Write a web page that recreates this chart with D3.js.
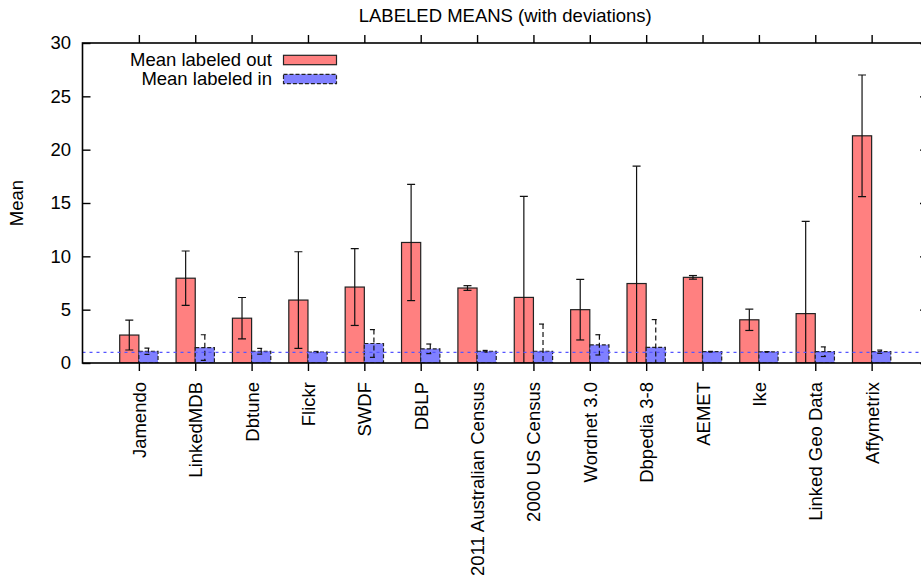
<!DOCTYPE html>
<html lang="en">
<head>
<meta charset="utf-8">
<script src="https://d3js.org/d3.v7.min.js"></script>
<style>
  body { margin: 0; background: #fff; }
  text { font-family: "Liberation Sans", Arial, sans-serif; }
</style>
</head>
<body>
<div id="chart"></div>
<script>
// data
var categories = ["Jamendo", "LinkedMDB", "Dbtune", "Flickr", "SWDF", "DBLP",
  "2011 Australian Census", "2000 US Census", "Wordnet 3.0", "Dbpedia 3-8",
  "AEMET", "Ike", "Linked Geo Data", "Affymetrix"];
var meanOut = [2.62, 7.95, 4.2, 5.9, 7.12, 11.3, 7.03, 6.15, 5.0, 7.45, 8.03, 4.05, 4.63, 21.3];
var devOut  = [1.4, 2.55, 1.94, 4.53, 3.6, 5.45, 0.22, 9.47, 2.84, 11.0, 0.17, 1.0, 8.65, 5.7];
var meanIn  = [1.1, 1.45, 1.1, 1.03, 1.83, 1.33, 1.1, 1.1, 1.7, 1.47, 1.06, 1.05, 1.06, 1.06];
var devIn   = [0.3, 1.2, 0.27, 0.05, 1.3, 0.45, 0.08, 2.55, 0.95, 2.6, 0.03, 0.02, 0.45, 0.15];
var yTicks = [0, 5, 10, 15, 20, 25, 30];
var refLine = 1;

var W = 921, H = 583, fs = 18.5;
var pLeft = 82.5, pRight = 928, pTop = 43, pBottom = 363;

var svg = d3.select("#chart").append("svg")
  .attr("width", W).attr("height", H);

var x = d3.scalePoint().domain(categories).range([pLeft, pRight]).padding(1);
var y = d3.scaleLinear().domain([0, 30]).range([pBottom, pTop]);
var bw = x.step() * 0.34;

var rows = categories.map(function (c, i) {
  return { c: c, mo: meanOut[i], so: devOut[i], mi: meanIn[i], si: devIn[i] };
});

svg.append("defs").append("clipPath").attr("id", "plot")
  .append("rect").attr("x", pLeft).attr("y", pTop)
  .attr("width", pRight - pLeft).attr("height", pBottom - pTop);

var g = svg.append("g").attr("clip-path", "url(#plot)");

// red bars
g.selectAll("rect.out").data(rows).enter().append("rect")
  .attr("class", "out")
  .attr("x", function (d) { return x(d.c) - bw; })
  .attr("y", function (d) { return y(d.mo); })
  .attr("width", bw)
  .attr("height", function (d) { return pBottom - y(d.mo); })
  .attr("fill", "#ff8080").attr("stroke", "#222").attr("stroke-width", 1.2);

// blue bars
g.selectAll("rect.in").data(rows).enter().append("rect")
  .attr("class", "in")
  .attr("x", function (d) { return x(d.c); })
  .attr("y", function (d) { return y(d.mi); })
  .attr("width", bw)
  .attr("height", function (d) { return pBottom - y(d.mi); })
  .attr("fill", "#8080ff").attr("stroke", "#222").attr("stroke-width", 1.2)
  .attr("stroke-dasharray", "4,2");

// error bars
function errBars(cls, cx, m, s, dash) {
  var eg = g.selectAll("g." + cls).data(rows).enter().append("g").attr("class", cls)
    .attr("stroke", "#111").attr("stroke-width", 1.2).attr("stroke-dasharray", dash);
  eg.append("line")
    .attr("x1", cx).attr("x2", cx)
    .attr("y1", function (d) { return y(m(d) + s(d)); })
    .attr("y2", function (d) { return y(Math.max(m(d) - s(d), -1)); });
  [1, -1].forEach(function (sg) {
    eg.append("line")
      .attr("x1", function (d) { return cx(d) - 4; })
      .attr("x2", function (d) { return cx(d) + 4; })
      .attr("y1", function (d) { return y(m(d) + sg * s(d)); })
      .attr("y2", function (d) { return y(m(d) + sg * s(d)); });
  });
}
errBars("eo", function (d) { return x(d.c) - bw / 2; },
  function (d) { return d.mo; }, function (d) { return d.so; }, null);
errBars("ei", function (d) { return x(d.c) + bw / 2; },
  function (d) { return d.mi; }, function (d) { return d.si; }, "5,3");

// reference line at 1
g.append("line")
  .attr("x1", pLeft).attr("x2", pRight)
  .attr("y1", y(refLine)).attr("y2", y(refLine))
  .attr("stroke", "#5555ff").attr("stroke-width", 1.2)
  .attr("stroke-dasharray", "3,4");

// axes
var xb = svg.append("g").attr("transform", "translate(0," + pBottom + ")")
  .call(d3.axisBottom(x).tickSize(8).tickSizeOuter(0).tickPadding(12));
xb.selectAll("text")
  .attr("transform", "rotate(-90)")
  .attr("x", -19).attr("y", 0).attr("dy", "0.35em")
  .style("text-anchor", "end");

svg.append("g").attr("transform", "translate(0," + pTop + ")")
  .call(d3.axisTop(x).tickSize(8).tickSizeOuter(0).tickFormat(""));

svg.append("g").attr("transform", "translate(" + pLeft + ",0)")
  .call(d3.axisLeft(y).tickValues(yTicks).tickSize(-8).tickSizeOuter(0).tickPadding(11.5));

svg.append("g").attr("transform", "translate(" + pRight + ",0)")
  .call(d3.axisRight(y).tickValues(yTicks).tickSize(-8).tickSizeOuter(0).tickFormat(""));

svg.selectAll(".tick line").attr("stroke", "#000").attr("stroke-width", 1.4);
svg.selectAll(".domain").remove();
svg.selectAll(".tick text")
  .attr("font-size", fs).attr("fill", "#000")
  .style("font-family", "'Liberation Sans', Arial, sans-serif");

// border
svg.append("rect")
  .attr("x", pLeft).attr("y", pTop)
  .attr("width", pRight - pLeft).attr("height", pBottom - pTop)
  .attr("fill", "none").attr("stroke", "#000").attr("stroke-width", 1.6);

// title and axis label
svg.append("text")
  .attr("x", (pLeft + pRight) / 2).attr("y", 22)
  .attr("text-anchor", "middle").attr("font-size", fs)
  .text("LABELED MEANS (with deviations)");

svg.append("text")
  .attr("transform", "translate(17," + ((pTop + pBottom) / 2) + ") rotate(-90)")
  .attr("text-anchor", "middle").attr("dy", "0.35em").attr("font-size", fs)
  .text("Mean");

// legend
var legend = [
  { label: "Mean labeled out", fill: "#ff8080", dash: null },
  { label: "Mean labeled in", fill: "#8080ff", dash: "4,2" }
];
var lg = svg.selectAll("g.leg").data(legend).enter().append("g")
  .attr("class", "leg")
  .attr("transform", function (d, i) { return "translate(0," + (60 + i * 19) + ")"; });
lg.append("text")
  .attr("x", 272).attr("dy", "0.35em")
  .attr("text-anchor", "end").attr("font-size", fs)
  .text(function (d) { return d.label; });
lg.append("rect")
  .attr("x", 283.5).attr("y", -4.7).attr("width", 53).attr("height", 9.4)
  .attr("fill", function (d) { return d.fill; })
  .attr("stroke", "#222").attr("stroke-width", 1.2)
  .attr("stroke-dasharray", function (d) { return d.dash; });
</script>
</body>
</html>
